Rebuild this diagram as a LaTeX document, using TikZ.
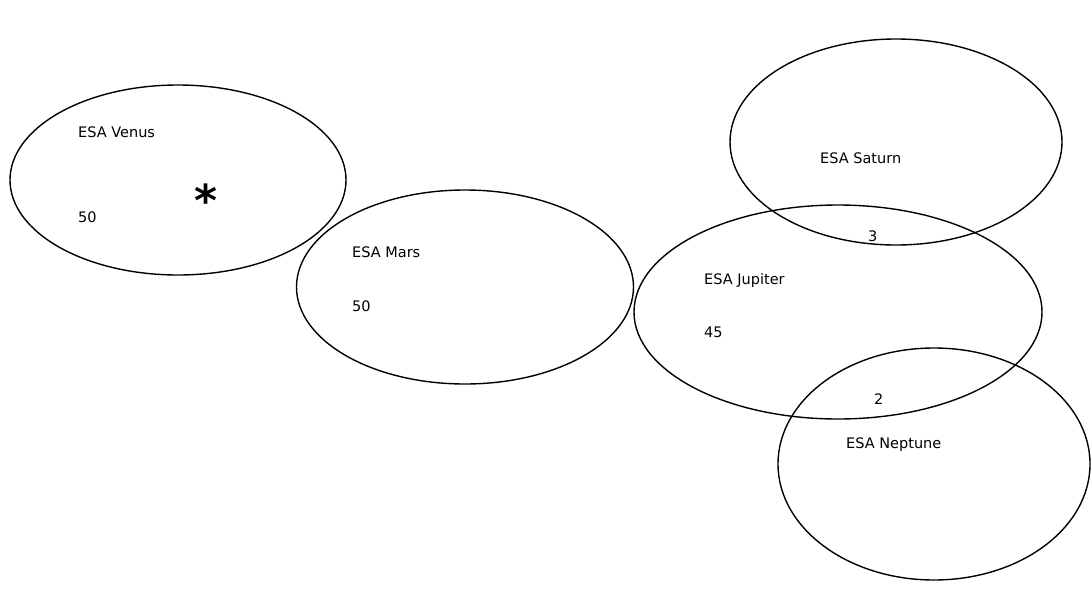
\documentclass[tikz,border=0pt]{standalone}
\usepackage{fontspec}
\setmainfont{DejaVu Sans}
\usetikzlibrary{shapes.geometric,positioning}

\tikzset{
  blob/.style={draw, ellipse, line width=1.4pt, inner sep=0pt},
  lbl/.style={anchor=base west, inner sep=0pt, font=\fontsize{14.5}{16}\selectfont},
}

\begin{document}
\begin{tikzpicture}[x=1pt,y=-1pt]
        \useasboundingbox (0,0) rectangle (1091,611);

        % Ellipses
        \node[blob, minimum width=336, minimum height=190] (venus) at (178,180) {};
        \node[blob, minimum width=337, minimum height=194] (mars) at (465,287) {};
        \node[blob, minimum width=332, minimum height=206] (saturn) at (896,142) {};
        \node[blob, minimum width=408, minimum height=214] (jupiter) at (838,312) {};
        \node[blob, minimum width=312, minimum height=232] (neptune) at (934,464) {};

        % Names and counts
        \node[lbl] (venusname) at (78,137) {ESA Venus};
        \node[lbl] (venusnum) at (78,222) {50};
        \node[font=\fontsize{44}{44}\selectfont\bfseries] (star) at (206,200) {*};

        \node[lbl] (marsname) at (352,257) {ESA Mars};
        \node[lbl] (marsnum) at (352,311) {50};

        \node[lbl] (saturnname) at (820,163) {ESA Saturn};
        \node[lbl] (satjup) at (868,241) {3};

        \node[lbl] (jupitername) at (704,284) {ESA Jupiter};
        \node[lbl] (jupiternum) at (704,337) {45};

        \node[lbl] (jupnep) at (874,404) {2};
        \node[lbl] (neptunename) at (846,448) {ESA Neptune};
    \end{tikzpicture}
\end{document}
